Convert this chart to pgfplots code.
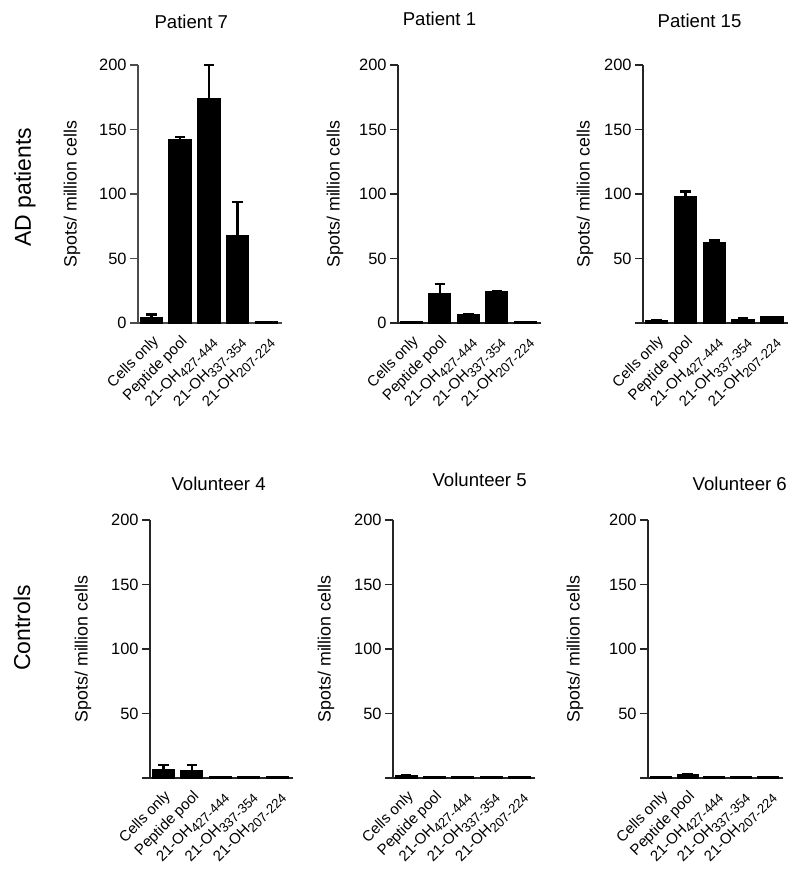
\documentclass[border=0pt]{standalone}
\usepackage{pgfplots}
\pgfplotsset{compat=1.18}
\usepackage{fontspec}
\setmainfont{Liberation Sans}
\newcommand{\fs}[1]{\fontsize{#1}{#1}\selectfont}
\newcommand{\sub}[1]{\raisebox{-0.45ex}{\fs{6.6}#1}}
\pgfplotsset{
  panel/.style={
    scale only axis, height=129pt,
    ymin=0, ymax=200, xmin=-0.47, xmax=4.55,
    axis lines*=left,
    ytick={0,50,100,150,200},
    tick align=outside, major tick length=4pt,
    xtick={0,1,2,3,4},
    xticklabels={Cells only, Peptide pool, 21-OH\sub{427-444}, 21-OH\sub{337-354}, 21-OH\sub{207-224}},
    x tick style={draw=none},
    x tick label style={rotate=45, anchor=north east, font=\fs{7.5}, inner sep=1pt},
    y tick label style={font=\fs{8.2}, inner sep=1.5pt},
    /pgf/number format/assume math mode=true,
    ylabel={Spots/ million cells},
    ylabel style={font=\fs{8.9}, at={(axis description cs:0,0.5)}, anchor=center},
    title style={font=\fs{9.3}, anchor=center},
    axis line style={line width=0.7pt, black!85},
    ytick style={line width=0.7pt, black!85},
    ybar, bar width=0.76, clip=false,
  },
  bars/.style={fill=black, draw=black, line width=0.8pt,
    error bars/.cd, y dir=plus, y explicit,
    error bar style={line width=1.2pt, black},
    error mark options={rotate=90, mark size=2.6pt, line width=1.2pt, black}},
}
\begin{document}
\begin{tikzpicture}
\useasboundingbox (0,0) rectangle (400pt,434.5pt);
\node[rotate=90, font=\fs{11.5}] at (12.5pt,341pt) {AD patients};
\node[rotate=90, font=\fs{11.5}] at (11pt,120.5pt) {Controls};

% Patient 7
\begin{axis}[panel, width=72pt, at={(69pt,273pt)}, anchor=south west,
  axis line style={line width=0.7pt, black!70}, ytick style={line width=0.7pt, black!70},
  title={Patient 7}, title style={at={(axis description cs:0.37,1)}, yshift=15.5pt},
  ylabel style={yshift=33pt}]
\addplot[bars] table[x=x, y=y, y error=e] {
x y e
0 4 2.5
1 142 2
2 174 26
3 67.5 26.5
4 0.7 0
};
\end{axis}

% Patient 1
\begin{axis}[panel, width=71.5pt, at={(199pt,273pt)}, anchor=south west,
  title={Patient 1}, title style={at={(axis description cs:0.29,1)}, yshift=17pt},
  ylabel style={yshift=31.5pt}]
\addplot[bars] table[x=x, y=y, y error=e] {
x y e
0 0.7 0
1 22.5 7.5
2 6.5 0
3 24 0.3
4 0.7 0
};
\end{axis}

% Patient 15
\begin{axis}[panel, width=72.5pt, at={(321.5pt,273pt)}, anchor=south west,
  yticklabels={{},50,100,150,200},
  title={Patient 15}, title style={at={(axis description cs:0.39,1)}, yshift=16pt},
  ylabel style={yshift=29pt}]
\addplot[bars] table[x=x, y=y, y error=e] {
x y e
0 1.5 0.3
1 97.5 4.5
2 62.5 1.5
3 2.5 1.5
4 4.5 0
};
\end{axis}

% Volunteer 4
\begin{axis}[panel, width=71.5pt, at={(75pt,45.5pt)}, anchor=south west,
  yticklabels={{},50,100,150,200},
  title={Volunteer 4}, title style={at={(axis description cs:0.48,1)}, yshift=12pt},
  ylabel style={yshift=33.5pt}]
\addplot[bars] table[x=x, y=y, y error=e] {
x y e
0 6.5 3.5
1 5.5 4.5
2 0.7 0
3 0.7 0
4 0.7 0
};
\end{axis}

% Volunteer 5
\begin{axis}[panel, width=71pt, at={(196.5pt,45.5pt)}, anchor=south west,
  yticklabels={{},50,100,150,200},
  title={Volunteer 5}, title style={at={(axis description cs:0.61,1)}, yshift=14pt},
  ylabel style={yshift=33.5pt}]
\addplot[bars] table[x=x, y=y, y error=e] {
x y e
0 2 0.3
1 0.7 0
2 0.7 0
3 0.7 0
4 0.7 0
};
\end{axis}

% Volunteer 6
\begin{axis}[panel, width=67.5pt, at={(324pt,45.5pt)}, anchor=south west,
  yticklabels={{},50,100,150,200},
  title={Volunteer 6}, title style={at={(axis description cs:0.68,1)}, yshift=12pt},
  ylabel style={yshift=36.5pt}]
\addplot[bars] table[x=x, y=y, y error=e] {
x y e
0 0.7 0
1 2.5 0.3
2 0.7 0
3 0.7 0
4 0.7 0
};
\end{axis}
\end{tikzpicture}
\end{document}
